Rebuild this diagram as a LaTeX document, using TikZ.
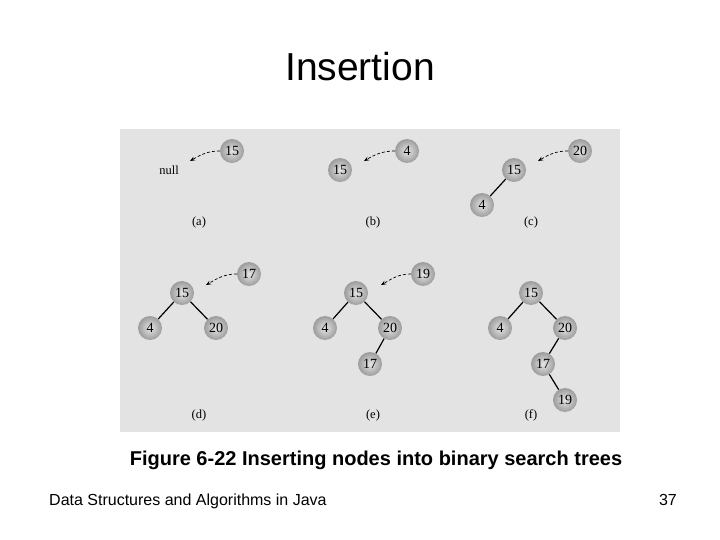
\documentclass[tikz,border=0pt]{standalone}
\usepackage{fontspec}
\setmainfont{Liberation Sans}
\newfontfamily\figserif{Liberation Serif}
\usetikzlibrary{arrows.meta}
\begin{document}
\begin{tikzpicture}[x=1pt,y=1pt,
  tnode/.style={circle, minimum size=24pt, inner sep=0pt, shading=radial,
    inner color=gray!20, outer color=gray!78, font=\figserif\fontsize{14}{15}\selectfont},
  tlabel/.style={font=\figserif\fontsize{12.5}{13}\selectfont},
  edge/.style={line width=1.2pt},
  ins/.style={densely dashed, line width=0.7pt, -{Stealth[length=5pt,width=4pt]}}]
\useasboundingbox (0,0) rectangle (720,-540);
\fill[white] (0,0) rectangle (720,-540);
\fill[gray!22] (120,-129) rectangle (620,-432);
\node[anchor=base, font=\fontsize{39}{44}\selectfont] (title) at (360,-81) {Insertion};
\node[tnode] (a15) at (232,-151) {15};
\node[tlabel] (nulla) at (169,-170) {null};
\coordinate (ca) at (190,-161);
\draw[ins] (a15.west) to[out=180,in=30] (ca);
\node[tnode] (b15) at (340,-170) {15};
\node[tnode] (b4) at (407,-151) {4};
\coordinate (cb) at (364,-161);
\draw[ins] (b4.west) to[out=180,in=30] (cb);
\node[tnode] (c20) at (580,-151) {20};
\node[tnode] (c15) at (514,-170) {15};
\node[tnode] (c4) at (482,-205) {4};
\coordinate (cc) at (538,-161);
\draw[ins] (c20.west) to[out=180,in=30] (cc);
\draw[edge] (c15) -- (c4);
\node[tlabel] (la) at (199,-222) {(a)};
\node[tlabel] (lb) at (373,-222) {(b)};
\node[tlabel] (lc) at (531,-222) {(c)};
\node[tnode] (d15) at (182,-293) {15};
\node[tnode] (d4) at (150,-328) {4};
\node[tnode] (d20) at (216,-328) {20};
\node[tnode] (d17) at (249,-274) {17};
\coordinate (cd) at (206,-285);
\draw[ins] (d17.west) to[out=180,in=30] (cd);
\draw[edge] (d15) -- (d4);
\draw[edge] (d15) -- (d20);
\node[tnode] (e15) at (356,-293) {15};
\node[tnode] (e4) at (325,-328) {4};
\node[tnode] (e20) at (390,-328) {20};
\node[tnode] (e17) at (370,-364) {17};
\node[tnode] (e19) at (423,-274) {19};
\coordinate (ce) at (381,-285);
\draw[ins] (e19.west) to[out=180,in=30] (ce);
\draw[edge] (e15) -- (e4);
\draw[edge] (e15) -- (e20);
\draw[edge] (e20) -- (e17);
\node[tnode] (f15) at (531,-293) {15};
\node[tnode] (f4) at (500,-328) {4};
\node[tnode] (f20) at (565,-328) {20};
\node[tnode] (f17) at (543,-364) {17};
\node[tnode] (f19) at (565,-400) {19};
\draw[edge] (f15) -- (f4);
\draw[edge] (f15) -- (f20);
\draw[edge] (f20) -- (f17);
\draw[edge] (f17) -- (f19);
\node[tlabel] (ld) at (199,-415) {(d)};
\node[tlabel] (le) at (373,-415) {(e)};
\node[tlabel] (lf) at (531,-415) {(f)};
\node[anchor=base, font=\bfseries\fontsize{20}{24}\selectfont] (caption) at (376,-465.7) {Figure 6-22 Inserting nodes into binary search trees};
\node[anchor=base west, inner sep=0pt, font=\fontsize{16}{20}\selectfont] (footer) at (49,-505) {Data Structures and Algorithms in Java};
\node[anchor=base east, inner sep=0pt, font=\fontsize{16}{20}\selectfont] (page) at (677,-505) {37};
\end{tikzpicture}
\end{document}
